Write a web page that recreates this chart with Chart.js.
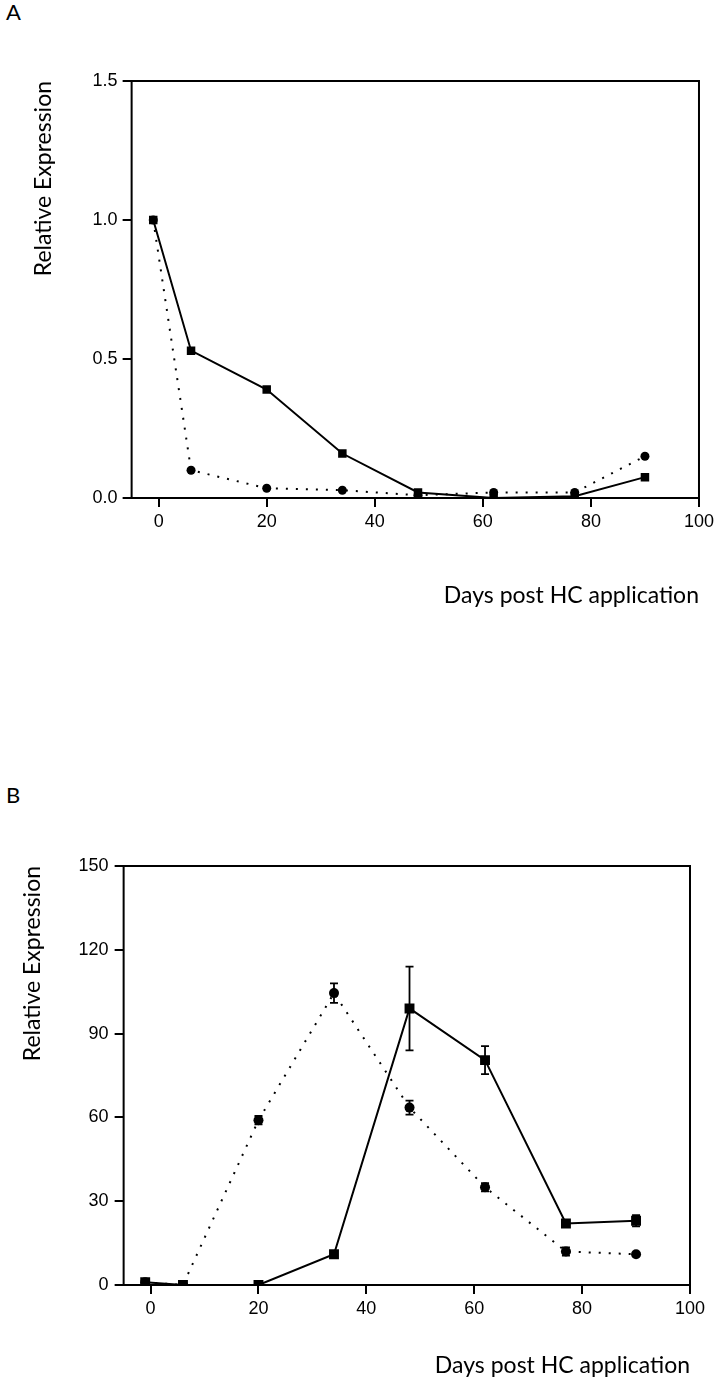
<!DOCTYPE html>
<html lang="en">
<head>
<meta charset="UTF-8" />
<title>Relative Expression</title>
<script src="https://cdn.jsdelivr.net/npm/chart.js"></script>
<style>
  body { margin: 0; background: #fff; width: 718px; height: 1385px; position: relative; overflow: hidden; }
  .panel { position: absolute; left: 0; }
  .panel canvas { display: block; }
  .letter { position: absolute; left: 6px; font-family: Lato, sans-serif; font-size: 22px; line-height: 22px; color: #000; }
</style>
</head>
<body>
<div class="letter" style="top:1px">A</div>
<div class="panel" style="top:0"><canvas id="chartA" width="718" height="650"></canvas></div>
<div class="letter" style="top:784px">B</div>
<div class="panel" style="top:700px"><canvas id="chartB" width="718" height="685"></canvas></div>
<script>
// sampling days (x)
const days = [-1, 6, 20, 34, 48, 62, 77, 90];
const xTicks = [0, 20, 40, 60, 80, 100];

// panel A
const aSquare = [1.0, 0.53, 0.39, 0.16, 0.02, 0.0, 0.006, 0.075];
const aCircle = [1.0, 0.10, 0.035, 0.028, 0.01, 0.02, 0.02, 0.15];
const aTicks = [0, 0.5, 1.0, 1.5];

// panel B
const bSquare = [1, 0, 0, 11, 99, 80.5, 22, 23];
const bSquareErr = [0, 0, 0, 0, 15, 5, 1, 2];
const bCircle = [1, 0, 59, 104.5, 63.5, 35, 12, 11];
const bCircleErr = [0.5, 0, 1.5, 3.5, 2.5, 1.5, 1.5, 0.5];
const bTicks = [0, 30, 60, 90, 120, 150];

const toPoints = ys => days.map((d, i) => ({x: d, y: ys[i]}));

// box round the plot area
const frame = {
  id: 'frame',
  beforeDatasetsDraw(chart) {
    const {ctx, chartArea: a} = chart;
    ctx.save();
    ctx.strokeStyle = '#000';
    ctx.lineWidth = 2;
    ctx.strokeRect(a.left, a.top, a.right - a.left, a.bottom - a.top);
    ctx.restore();
  }
};

// vertical error bars with caps
const errorBars = {
  id: 'errorBars',
  afterDatasetsDraw(chart) {
    const {ctx, scales: {x, y}} = chart;
    ctx.save();
    ctx.strokeStyle = '#000';
    ctx.lineWidth = 1.8;
    chart.data.datasets.forEach(ds => {
      if (!ds.errorBars) return;
      ds.data.forEach((p, i) => {
        const e = ds.errorBars[i];
        if (!e) return;
        const px = x.getPixelForValue(p.x);
        const top = y.getPixelForValue(p.y + e);
        const bot = y.getPixelForValue(p.y - e);
        ctx.beginPath();
        ctx.moveTo(px, top); ctx.lineTo(px, bot);
        ctx.moveTo(px - 4, top); ctx.lineTo(px + 4, top);
        ctx.moveTo(px - 4, bot); ctx.lineTo(px + 4, bot);
        ctx.stroke();
      });
    });
    ctx.restore();
  }
};

function makeChart(id, opts) {
  const tickFont = {family: 'Liberation Sans', size: 18};
  const titleFont = {family: 'Lato', size: 23};
  return new Chart(document.getElementById(id), {
    type: 'line',
    data: {
      datasets: [
        {
          data: toPoints(opts.circle),
          errorBars: opts.circleErr,
          borderColor: '#000',
          borderWidth: 2,
          borderDash: [2, 8],
          pointStyle: 'circle',
          pointRadius: opts.circleR,
          pointBackgroundColor: '#000',
          pointBorderWidth: 0,
          tension: 0
        },
        {
          data: toPoints(opts.square),
          errorBars: opts.squareErr,
          borderColor: '#000',
          borderWidth: 2,
          pointStyle: 'rect',
          pointRadius: opts.squareR,
          pointBackgroundColor: '#000',
          pointBorderWidth: 0,
          tension: 0
        }
      ]
    },
    options: {
      responsive: false,
      animation: false,
      layout: {padding: opts.padding},
      plugins: {legend: {display: false}, tooltip: {enabled: false}},
      scales: {
        x: {
          type: 'linear',
          min: -5,
          max: 100,
          afterBuildTicks: s => { s.ticks = xTicks.map(v => ({value: v})); },
          border: {display: false},
          grid: {drawOnChartArea: false, tickLength: 9, color: '#000', lineWidth: 2},
          ticks: {font: tickFont, color: '#000', padding: 4, autoSkip: false, maxRotation: 0},
          title: {
            display: true,
            text: 'Days post HC application',
            align: 'end',
            color: '#000',
            font: titleFont,
            padding: {top: opts.xTitlePad, bottom: 0}
          }
        },
        y: {
          type: 'linear',
          min: opts.yTicks[0],
          max: opts.yTicks[opts.yTicks.length - 1],
          afterBuildTicks: s => { s.ticks = opts.yTicks.map(v => ({value: v})); },
          border: {display: false},
          grid: {drawOnChartArea: false, tickLength: 9, color: '#000', lineWidth: 2},
          ticks: {font: tickFont, color: '#000', padding: opts.yTickPad, callback: opts.fmt},
          title: {
            display: true,
            text: 'Relative Expression',
            align: 'end',
            color: '#000',
            font: titleFont,
            padding: opts.yTitlePad
          }
        }
      }
    },
    plugins: [frame, errorBars]
  });
}

makeChart('chartA', {
  square: aSquare, squareErr: null,
  circle: aCircle, circleErr: null,
  squareR: 6, circleR: 4.5,
  yTicks: aTicks,
  fmt: v => v.toFixed(1),
  padding: {left: 10, right: 19, top: 81, bottom: 40.2},
  xTitlePad: 45.6,
  yTitlePad: {top: 20, bottom: 30},
  yTickPad: 5
});

makeChart('chartB', {
  square: bSquare, squareErr: bSquareErr,
  circle: bCircle, circleErr: bCircleErr,
  squareR: 7, circleR: 5,
  yTicks: bTicks,
  fmt: v => String(v),
  padding: {left: 5, right: 28, top: 166, bottom: 5.2},
  xTitlePad: 28.6,
  yTitlePad: {top: 14, bottom: 26},
  yTickPad: 6
});
</script>
</body>
</html>
